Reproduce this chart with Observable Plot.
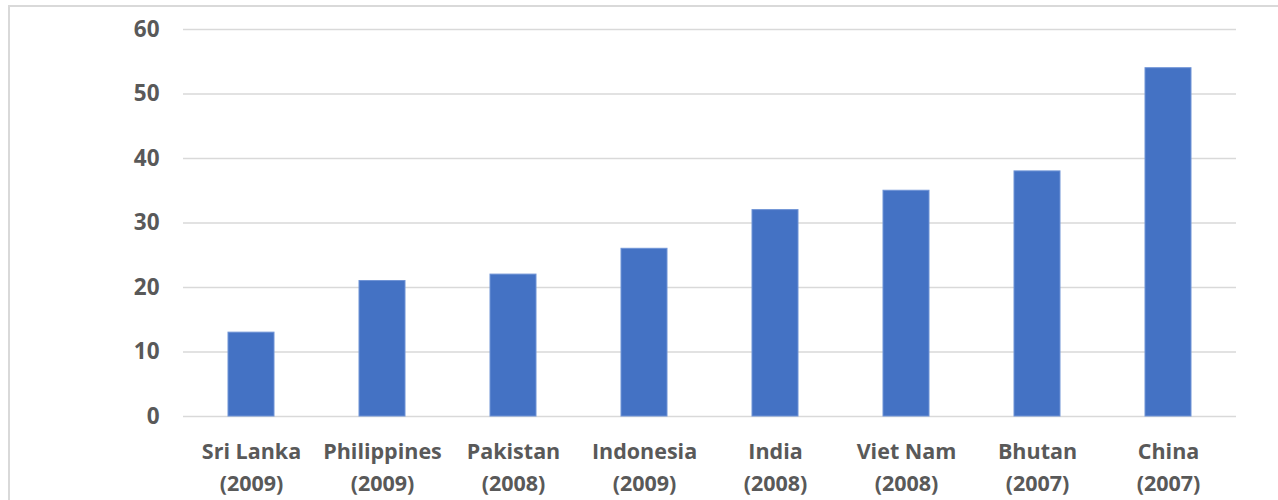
<!DOCTYPE html>
<html><head><meta charset="utf-8">
<script src="https://cdn.jsdelivr.net/npm/d3@7"></script>
<script src="https://cdn.jsdelivr.net/npm/@observablehq/plot@0.6"></script>
<style>
body{margin:0;background:#fff;}
#wrap{position:relative;width:1278px;height:500px;overflow:hidden;background:#fff;}
#frame{position:absolute;left:8px;top:5px;width:1400px;height:700px;border-top:2px solid #d9d9d9;border-left:2px solid #d9d9d9;box-sizing:border-box;}
#chart{position:absolute;left:0;top:0;}
</style></head><body>
<div id="wrap"><div id="frame"></div><div id="chart"></div></div>
<script>
const countries = ["Sri Lanka", "Philippines", "Pakistan", "Indonesia", "India", "Viet Nam", "Bhutan", "China"];
const years = ["2009", "2009", "2008", "2009", "2008", "2008", "2007", "2007"];
const values = [13, 21, 22, 26, 32, 35, 38, 54];
const yTicks = [0, 10, 20, 30, 40, 50, 60];

const data = countries.map((c, i) => ({label: `${c}\n(${years[i]})`, value: values[i]}));

const chart = Plot.plot({
  width: 1278,
  height: 500,
  marginLeft: 183,
  marginRight: 42,
  marginTop: 29,
  marginBottom: 84,
  style: {fontFamily: "'Open Sans', sans-serif", fontSize: "21px", fontWeight: "bold", color: "#595959", background: "transparent"},
  x: {domain: data.map(d => d.label), paddingInner: 0.646, paddingOuter: 0.323},
  y: {domain: [0, 60]},
  marks: [
    Plot.gridY(yTicks, {stroke: "#d9d9d9", strokeOpacity: 1, strokeWidth: 1.5}),
    Plot.barY(data, {x: "label", y: "value", fill: "#4472c4", stroke: "#6f93d6", strokeWidth: 1}),
    Plot.axisY(yTicks, {tickSize: 0, tickPadding: 24, label: null, fill: "#595959", fontSize: 22.5}),
    Plot.axisX({tickSize: 0, tickPadding: 20, lineHeight: 1.48, label: null, fill: "#595959", fontSize: 21.5})
  ]
});
document.getElementById("chart").append(chart);
</script>
</body></html>
